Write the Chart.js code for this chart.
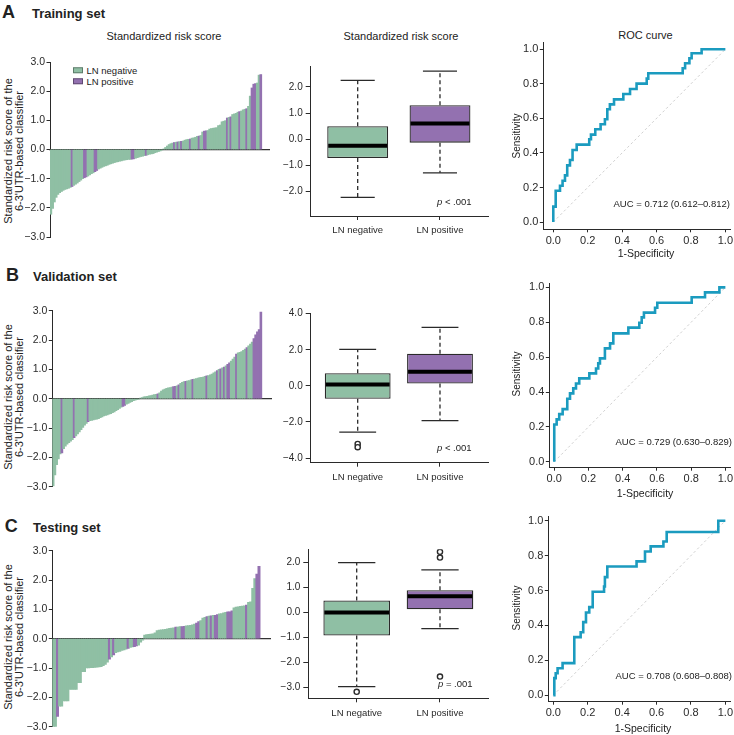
<!DOCTYPE html>
<html lang="en">
<head>
<meta charset="UTF-8">
<title>6-3'UTR-based classifier: risk scores and ROC curves</title>
<script src="https://cdn.jsdelivr.net/npm/chart.js"></script>
<style>
  * { margin: 0; padding: 0; box-sizing: border-box; }
  body {
    width: 734px; height: 735px; position: relative; overflow: hidden;
    background: #fff; color: #222;
    font-family: "Liberation Sans", Arial, sans-serif;
  }
  canvas, .t { position: absolute; }
  .t { white-space: nowrap; line-height: 1; }
  .c { transform: translate(-50%, -50%); }
  .l { transform: translate(0, -50%); }
  .r { transform: translate(-100%, -50%); }
  .tag { font-size: 18px; font-weight: bold; }
  .set { font-size: 13px; font-weight: bold; }
  .head { font-size: 11px; }
  .ylab { font-size: 11px; line-height: 10.5px; text-align: center; transform: translate(-50%, -50%) rotate(-90deg); }
  .rocy { font-size: 10px; transform: translate(-50%, -50%) rotate(-90deg); }
  .rocx { font-size: 10.5px; }
  .note { font-size: 9.5px; }
  .key { font-size: 9.5px; }
  .key i { display: inline-block; width: 10px; height: 5.5px; margin-right: 4px; border: 1px solid rgba(0,0,0,.35); vertical-align: 1px; }
</style>
</head>
<body>

<!-- panel headers -->
<div class="t c tag" style="left:8.5px;top:11.5px">A</div>
<div class="t l set" style="left:32px;top:12.5px">Training set</div>
<div class="t c tag" style="left:12.5px;top:274.7px">B</div>
<div class="t l set" style="left:33px;top:276px">Validation set</div>
<div class="t c tag" style="left:11.3px;top:525.5px">C</div>
<div class="t l set" style="left:33px;top:526.5px">Testing set</div>

<!-- column titles -->
<div class="t c head" style="left:164px;top:36px">Standardized risk score</div>
<div class="t c head" style="left:401px;top:35.5px">Standardized risk score</div>
<div class="t c head" style="left:645.5px;top:35px">ROC curve</div>

<!-- waterfall y titles -->
<div class="t ylab" style="left:12.8px;top:151px">Standardized risk score of the<br>6-3'UTR-based classifier</div>
<div class="t ylab" style="left:12.8px;top:397px">Standardized risk score of the<br>6-3'UTR-based classifier</div>
<div class="t ylab" style="left:12.8px;top:637px">Standardized risk score of the<br>6-3'UTR-based classifier</div>

<div class="t l key" style="left:72.5px;top:70.8px"><i style="background:#8fbfa4"></i>LN negative</div>
<div class="t l key" style="left:72.5px;top:81.5px"><i style="background:#9371b0"></i>LN positive</div>

<canvas id="wfA" width="280" height="205" style="left:0;top:45px"></canvas>
<canvas id="wfB" width="285" height="205" style="left:0;top:295px"></canvas>
<canvas id="wfC" width="285" height="200" style="left:0;top:535px"></canvas>

<canvas id="bxA" width="235" height="195" style="left:265px;top:50px"></canvas>
<canvas id="bxB" width="235" height="195" style="left:265px;top:298px"></canvas>
<canvas id="bxC" width="235" height="200" style="left:265px;top:535px"></canvas>

<canvas id="rocA" width="245" height="220" style="left:500px;top:30px"></canvas>
<canvas id="rocB" width="245" height="230" style="left:500px;top:270px"></canvas>
<canvas id="rocC" width="245" height="230" style="left:500px;top:505px"></canvas>

<!-- p values -->
<div class="t l note" style="left:437px;top:201.7px"><i>p</i> &lt; .001</div>
<div class="t l note" style="left:437px;top:447.7px"><i>p</i> &lt; .001</div>
<div class="t l note" style="left:438px;top:684px"><i>p</i> = .001</div>

<!-- ROC labels -->
<div class="t rocy" style="left:516.7px;top:136px">Sensitivity</div>
<div class="t rocy" style="left:516.7px;top:374px">Sensitivity</div>
<div class="t rocy" style="left:516.7px;top:608px">Sensitivity</div>
<div class="t c rocx" style="left:646px;top:253px">1-Specificity</div>
<div class="t c rocx" style="left:645px;top:493px">1-Specificity</div>
<div class="t c rocx" style="left:643px;top:728px">1-Specificity</div>
<div class="t r note" style="left:730px;top:204px">AUC = 0.712 (0.612–0.812)</div>
<div class="t r note" style="left:732px;top:442px">AUC = 0.729 (0.630–0.829)</div>
<div class="t r note" style="left:732px;top:675.7px">AUC = 0.708 (0.608–0.808)</div>

<script>
// ---------- data ----------
const groups = ['LN negative', 'LN positive'];

// sorted standardized risk scores, one bar per patient
const scoreA = [
  -2.22, -2.02, -1.80, -1.64, -1.54, -1.48, -1.44, -1.40, -1.37, -1.35,
  -1.33, -1.30, -1.27, -1.23, -1.19, -1.15, -1.10, -1.05, -1.00, -0.97,
  -0.94, -0.91, -0.87, -0.83, -0.80, -0.76, -0.72, -0.67, -0.64, -0.61,
  -0.58, -0.56, -0.54, -0.51, -0.49, -0.47, -0.45, -0.43, -0.42, -0.40,
  -0.39, -0.37, -0.36, -0.35, -0.34, -0.34, -0.33, -0.32, -0.30, -0.28,
  -0.26, -0.24, -0.23, -0.21, -0.20, -0.18, -0.16, -0.15, -0.14, -0.11,
  -0.09, -0.07, -0.05, -0.02, 0.02, 0.07, 0.12, 0.17, 0.20, 0.22,
  0.24, 0.25, 0.26, 0.27, 0.28, 0.29, 0.32, 0.34, 0.35, 0.36,
  0.39, 0.40, 0.42, 0.45, 0.46, 0.48, 0.60, 0.63, 0.64, 0.65,
  0.70, 0.72, 0.73, 0.74, 0.75, 0.82, 0.84, 0.95, 0.97, 0.99,
  1.08, 1.10, 1.12, 1.20, 1.22, 1.24, 1.28, 1.30, 1.32, 1.36,
  1.38, 1.40, 1.48, 1.83, 2.11, 2.24, 2.26, 2.28, 2.55, 2.57
];
const lnPosA = [12, 19, 20, 25, 26, 46, 47, 54, 70, 72, 74, 79, 84, 87, 88, 100, 102, 107, 111, 114, 115, 116, 119];

const scoreB = [
  -2.97, -2.60, -2.25, -2.05, -1.88, -1.85, -1.70, -1.62, -1.55, -1.50,
  -1.45, -1.40, -1.33, -1.27, -1.20, -1.13, -1.06, -0.98, -0.90, -0.84,
  -0.78, -0.75, -0.74, -0.72, -0.71, -0.70, -0.68, -0.65, -0.62, -0.59,
  -0.57, -0.55, -0.53, -0.51, -0.48, -0.45, -0.41, -0.37, -0.33, -0.29,
  -0.26, -0.23, -0.19, -0.16, -0.13, -0.10, -0.07, -0.05, -0.03, -0.01,
  0.02, 0.04, 0.06, 0.07, 0.08, 0.10, 0.11, 0.12, 0.14, 0.15,
  0.17, 0.20, 0.26, 0.30, 0.33, 0.35, 0.37, 0.38, 0.40, 0.41,
  0.42, 0.44, 0.47, 0.52, 0.56, 0.58, 0.59, 0.61, 0.62, 0.64,
  0.66, 0.67, 0.69, 0.70, 0.72, 0.73, 0.74, 0.76, 0.78, 0.79,
  0.81, 0.84, 0.88, 0.92, 0.96, 1.00, 1.02, 1.05, 1.08, 1.12,
  1.17, 1.22, 1.28, 1.35, 1.42, 1.52, 1.56, 1.58, 1.61, 1.65,
  1.69, 1.74, 1.80, 1.86, 1.93, 2.05, 2.18, 2.28, 2.36, 2.95
];
const lnPosB = [5, 12, 20, 40, 41, 60, 69, 70, 72, 76, 80, 88, 94, 96, 98, 100, 101, 105, 111, 115, 116, 117, 118, 119];

const scoreC = [
  -3.00, -3.00, -2.65, -2.30, -2.30, -2.12, -2.12, -2.12, -1.73, -1.73,
  -1.73, -1.73, -1.50, -1.50, -1.12, -1.12, -1.00, -1.00, -0.99, -0.99,
  -0.98, -0.97, -0.96, -0.95, -0.92, -0.88, -0.80, -0.70, -0.62, -0.55,
  -0.48, -0.45, -0.43, -0.40, -0.38, -0.36, -0.33, -0.30, -0.28, -0.27,
  -0.25, -0.22, -0.12, -0.05, 0.12, 0.14, 0.15, 0.16, 0.17, 0.20,
  0.28, 0.29, 0.30, 0.31, 0.32, 0.34, 0.35, 0.36, 0.37, 0.40,
  0.40, 0.41, 0.41, 0.42, 0.44, 0.45, 0.46, 0.47, 0.50, 0.53,
  0.58, 0.62, 0.70, 0.73, 0.75, 0.77, 0.78, 0.80, 0.80, 0.82,
  0.85, 0.86, 0.88, 0.90, 0.92, 0.92, 0.95, 1.05, 1.08, 1.09,
  1.10, 1.11, 1.12, 1.15, 1.24, 1.26, 1.72, 2.05, 2.20, 2.47
];
const lnPosC = [2, 27, 29, 36, 39, 40, 59, 62, 63, 69, 70, 74, 76, 78, 79, 84, 85, 86, 93, 98, 99];

const riskTicks = [-3, -2, -1, 0, 1, 2, 3];

// box plot summaries, [LN negative, LN positive]
const loA = [-2.22, -1.28], q1A = [-0.72, -0.13], medA = [-0.25, 0.60], q3A = [0.50, 1.30], hiA = [2.25, 2.60];
const outNegA = [], outPosA = [];
const loB = [-2.57, -1.93], q1B = [-0.72, 0.13], medB = [0.08, 0.78], q3B = [0.70, 1.78], hiB = [2.02, 3.24];
const outNegB = [-3.22, -3.40], outPosB = [];
const loC = [-2.96, -0.64], q1C = [-0.92, 0.13], medC = [0.00, 0.65], q3C = [0.48, 0.89], hiC = [2.00, 1.71];
const outNegC = [-3.17], outPosC = [2.43, 2.20, -2.56];

const boxTicksA = [-2, -1, 0, 1, 2];
const boxTicksB = [-4, -2, 0, 2, 4];
const boxTicksC = [-3, -2, -1, 0, 1, 2];

// ROC corner points (1-specificity, sensitivity)
const fprA = [0, 0, 0.014, 0.039, 0.054, 0.068, 0.081, 0.097, 0.112, 0.136, 0.209, 0.219, 0.244, 0.275, 0.300,
              0.314, 0.329, 0.353, 0.407, 0.446, 0.484, 0.543, 0.552, 0.752, 0.766, 0.791, 0.804, 0.862, 1.0];
const tprA = [0, 0.089, 0.181, 0.210, 0.239, 0.270, 0.328, 0.359, 0.417, 0.448, 0.479, 0.506, 0.537, 0.566, 0.595,
              0.653, 0.681, 0.710, 0.741, 0.770, 0.801, 0.830, 0.861, 0.890, 0.919, 0.948, 0.977, 1.0, 1.0];
const fprB = [0, 0, 0.014, 0.029, 0.049, 0.076, 0.092, 0.111, 0.127, 0.146, 0.205, 0.244, 0.257, 0.267,
              0.296, 0.326, 0.345, 0.433, 0.497, 0.511, 0.524, 0.589, 0.602, 0.803, 0.881, 0.965, 1.0];
const tprB = [0, 0.214, 0.243, 0.273, 0.302, 0.361, 0.392, 0.421, 0.449, 0.478, 0.507, 0.535, 0.564, 0.593,
              0.650, 0.679, 0.736, 0.769, 0.797, 0.828, 0.855, 0.883, 0.912, 0.943, 0.971, 1.0, 1.0];
const fprC = [0, 0.006, 0.014, 0.025, 0.054, 0.122, 0.159, 0.174, 0.190, 0.209, 0.229,
              0.295, 0.300, 0.314, 0.484, 0.533, 0.566, 0.640, 0.659, 0.959, 1.0];
const tprC = [0, 0.098, 0.126, 0.155, 0.184, 0.333, 0.361, 0.419, 0.474, 0.505, 0.593,
              0.623, 0.677, 0.738, 0.767, 0.824, 0.853, 0.881, 0.935, 1.0, 1.0];
const chanceLine = [0, 1];
const rocTicks = [0, 0.2, 0.4, 0.6, 0.8, 1.0];

// ---------- styling ----------
const GREEN = '#8fbfa4', PURPLE = '#9371b0', INK = '#2a2a2a', ROC = '#1b9bbf';

Chart.defaults.font.family = '"Liberation Sans", Arial, sans-serif';
Chart.defaults.color = INK;
Chart.defaults.animation = false;
Chart.defaults.plugins.legend.display = false;
Chart.defaults.plugins.tooltip.enabled = false;

const fmt = v => (v < 0 ? '\u2212' : '') + Math.abs(v).toFixed(1);
const fixSize = px => s => { if (s.isHorizontal()) s.height = px; else s.width = px; };

function axis(min, max, ticks, size, font, tickLen, pad, label) {
  return {
    type: 'linear', min, max,
    offset: false,
    afterFit: fixSize(size),
    afterBuildTicks: s => { s.ticks = ticks.map(v => ({ value: v })); },
    ticks: { callback: label || fmt, font: { size: font }, padding: pad, color: INK, maxRotation: 0, autoSkip: false },
    grid: { offset: false, drawOnChartArea: false, drawTicks: true, tickLength: tickLen, color: INK, lineWidth: 1 },
    border: { color: INK, width: 1 }
  };
}

// ---------- waterfall (sorted bars) ----------
function waterfall(id, scores, lnPos, padding, yWidth, xPad) {
  new Chart(document.getElementById(id), {
    type: 'bar',
    data: {
      datasets: [{
        data: scores.map((v, i) => ({ x: i, y: v })),
        backgroundColor: scores.map((v, i) => lnPos.includes(i) ? PURPLE : GREEN),
        borderWidth: 0,
        barThickness: 'flex',
        barPercentage: 1,
        categoryPercentage: 1.12
      }]
    },
    options: {
      responsive: false,
      devicePixelRatio: 1,
      layout: { padding },
      scales: {
        x: {
          type: 'linear', position: { y: 0 }, z: 1, offset: false,
          min: -0.5, max: scores.length - 0.5 + xPad,
          afterBuildTicks: s => { s.ticks = [{ value: 0 }]; },
          ticks: { display: false }, grid: { display: false, offset: false },
          border: { color: '#333', width: 1.3 }
        },
        y: axis(-3, 3, riskTicks, yWidth, 10.5, 3.5, 1.5)
      }
    }
  });
}

waterfall('wfA', scoreA, lnPosA, { top: 17, right: 11, bottom: 13, left: 0 }, 50, 4.15);
waterfall('wfB', scoreB, lnPosB, { top: 15.7, right: 13.3, bottom: 13.3, left: 0 }, 52.3, 5.7);
waterfall('wfC', scoreC, lnPosC, { top: 15.7, right: 15, bottom: 8.3, left: 0 }, 52.3, 4.8);

// ---------- box plots ----------
function whiskerPlugin(lo, q1, med, q3, hi) {
  return {
    id: 'whiskers',
    afterDatasetsDraw(chart) {
      const { ctx } = chart;
      const y = chart.scales.y;
      ctx.save();
      chart.getDatasetMeta(0).data.forEach((bar, i) => {
        const x = bar.x, w = bar.width;
        const pTop = y.getPixelForValue(q3[i]), pBot = y.getPixelForValue(q1[i]);
        const pHi = y.getPixelForValue(hi[i]), pLo = y.getPixelForValue(lo[i]);
        const pMed = y.getPixelForValue(med[i]);
        ctx.strokeStyle = INK;
        ctx.lineWidth = 1.3;
        ctx.setLineDash([4, 3]);
        ctx.beginPath();
        ctx.moveTo(x, pTop); ctx.lineTo(x, pHi);
        ctx.moveTo(x, pBot); ctx.lineTo(x, pLo);
        ctx.stroke();
        ctx.setLineDash([]);
        ctx.beginPath();
        ctx.moveTo(x - w * 0.28, pHi); ctx.lineTo(x + w * 0.28, pHi);
        ctx.moveTo(x - w * 0.28, pLo); ctx.lineTo(x + w * 0.28, pLo);
        ctx.stroke();
        ctx.strokeStyle = '#000';
        ctx.lineWidth = 4;
        ctx.beginPath();
        ctx.moveTo(x - w / 2 + 1, pMed); ctx.lineTo(x + w / 2 - 1, pMed);
        ctx.stroke();
      });
      ctx.restore();
    }
  };
}

function boxplot(id, lo, q1, med, q3, hi, outNeg, outPos, yr, ticks, padding, yWidth, xr, boxWidth) {
  const outliers = outNeg.map(v => ({ x: 1, y: v })).concat(outPos.map(v => ({ x: 2, y: v })));
  new Chart(document.getElementById(id), {
    type: 'bar',
    data: {
      datasets: [
        {
          type: 'bar',
          data: groups.map((g, i) => ({ x: i + 1, y: [q1[i], q3[i]] })),
          backgroundColor: [GREEN, PURPLE],
          borderColor: INK,
          borderWidth: 1.3,
          borderSkipped: false,
          barPercentage: boxWidth,
          categoryPercentage: 1
        },
        {
          type: 'scatter',
          data: outliers,
          pointRadius: 2.6,
          pointBackgroundColor: '#fff',
          pointBorderColor: INK,
          pointBorderWidth: 1.4
        }
      ]
    },
    options: {
      responsive: false,
      devicePixelRatio: 1,
      layout: { padding },
      scales: {
        x: axis(xr[0], xr[1], [1, 2], 25, 9.5, 4, 5, v => groups[v - 1]),
        y: axis(yr[0], yr[1], ticks, yWidth, 10, 5, 3)
      }
    },
    plugins: [whiskerPlugin(lo, q1, med, q3, hi)]
  });
}

boxplot('bxA', loA, q1A, medA, q3A, hiA, outNegA, outPosA, [-2.93, 2.77], boxTicksA,
  { top: 16.7, right: 11.7, bottom: 4, left: 0 }, 45.7, [0.429, 2.587], 0.74);
boxplot('bxB', loB, q1B, medB, q3B, hiB, outNegB, outPosB, [-4.26, 4.0], boxTicksB,
  { top: 15.7, right: 11.7, bottom: 5.3, left: 0 }, 45.7, [0.429, 2.587], 0.8);
boxplot('bxC', loC, q1C, medC, q3C, hiC, outNegC, outPosC, [-3.43, 2.53], boxTicksC,
  { top: 14.3, right: 11.7, bottom: 11.7, left: 0 }, 43.3, [0.419, 2.58], 0.8);

// ---------- ROC curves ----------
function roc(id, fpr, tpr, xr, yr, padding, yWidth) {
  new Chart(document.getElementById(id), {
    type: 'scatter',
    data: {
      datasets: [
        {
          data: fpr.map((f, i) => ({ x: f, y: tpr[i] })),
          showLine: true,
          stepped: 'before',
          borderColor: ROC,
          borderWidth: 2.6,
          pointRadius: 0
        },
        {
          data: chanceLine.map(v => ({ x: v, y: v })),
          showLine: true,
          borderColor: '#c4c4c4',
          borderWidth: 0.8,
          borderDash: [2.5, 2.5],
          pointRadius: 0
        }
      ]
    },
    options: {
      responsive: false,
      devicePixelRatio: 1,
      layout: { padding },
      scales: {
        x: axis(xr[0], xr[1], rocTicks, 18, 11, 3, 2),
        y: axis(yr[0], yr[1], rocTicks, yWidth, 11, 3.5, 1.5)
      }
    }
  });
}

roc('rocA', fprA, tprA, [-0.058, 1.031], [-0.042, 1.038], { top: 12.7, right: 14.3, bottom: 2.7, left: 0 }, 43.3);
roc('rocB', fprB, tprB, [-0.029, 1.027], [-0.034, 1.025], { top: 13, right: 15, bottom: 14.3, left: 0 }, 49.3);
roc('rocC', fprC, tprC, [-0.029, 1.027], [-0.037, 1.027], { top: 11, right: 15, bottom: 15.3, left: 0 }, 48.3);
</script>
</body>
</html>
